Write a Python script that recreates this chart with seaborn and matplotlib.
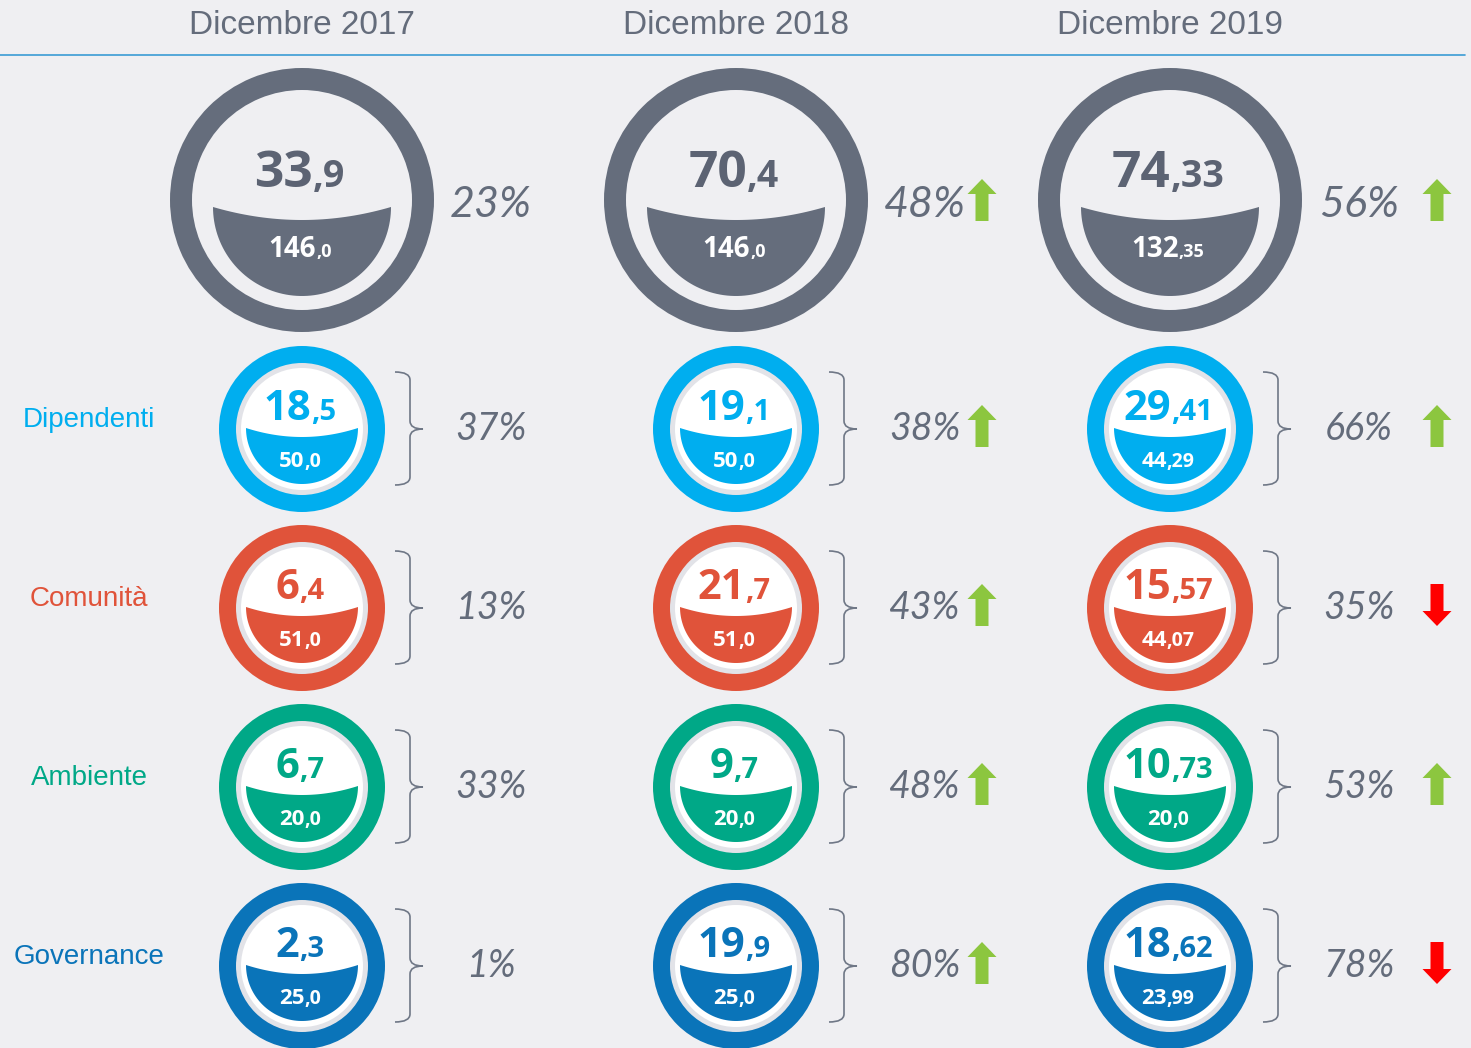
import numpy as np
import matplotlib
matplotlib.use("Agg")
import matplotlib.pyplot as plt
import seaborn as sns
from matplotlib.patches import Circle, Wedge, Polygon, PathPatch
from matplotlib.path import Path

# ---------------- data ----------------
years = ["Dicembre 2017", "Dicembre 2018", "Dicembre 2019"]
categories = ["Dipendenti", "Comunità", "Ambiente", "Governance"]

total_score = ["33,9", "70,4", "74,33"]
total_max = ["146,0", "146,0", "132,35"]
total_pct = [23, 48, 56]
total_trend = [None, "up", "up"]

dip_score = ["18,5", "19,1", "29,41"]
dip_max = ["50,0", "50,0", "44,29"]
dip_pct = [37, 38, 66]
dip_trend = [None, "up", "up"]

com_score = ["6,4", "21,7", "15,57"]
com_max = ["51,0", "51,0", "44,07"]
com_pct = [13, 43, 35]
com_trend = [None, "up", "down"]

amb_score = ["6,7", "9,7", "10,73"]
amb_max = ["20,0", "20,0", "20,0"]
amb_pct = [33, 48, 53]
amb_trend = [None, "up", "up"]

gov_score = ["2,3", "19,9", "18,62"]
gov_max = ["25,0", "25,0", "23,99"]
gov_pct = [1, 80, 78]
gov_trend = [None, "up", "down"]

rows = [
    (dip_score, dip_max, dip_pct, dip_trend),
    (com_score, com_max, com_pct, com_trend),
    (amb_score, amb_max, amb_pct, amb_trend),
    (gov_score, gov_max, gov_pct, gov_trend),
]

# ---------------- style ----------------
sns.set_theme(style="white")
plt.rcParams["font.family"] = ["Liberation Sans", "DejaVu Sans"]

BG = "#EFEFF2"
GRAY = "#656D7C"
TXT = "#646C7B"
cat_colors = sns.color_palette(["#00AEEF", "#E0533A", "#00A887", "#0A74B9"])
UP = "#8CC63F"
DOWN = "#FF0000"
NUMFONT = ["Open Sans", "DejaVu Sans"]
NUMWEIGHT = "bold"

fig = plt.figure(figsize=(14.71, 10.48), dpi=100, facecolor=BG)
ax = fig.add_axes([0, 0, 1, 1])
ax.set_xlim(0, 1471)
ax.set_ylim(1048, 0)
ax.axis("off")
ax.set_facecolor(BG)
renderer = fig.canvas.get_renderer()

col_x = [302, 736, 1170]
row_y = [429, 608, 787, 966]
big_y = 200


def two_part(x, y, label, s1, s2, color):
    a, b = label.split(",")
    b = "," + b
    t1 = ax.text(x, y, a, fontsize=s1, ha="left", va="baseline", color=color,
                 fontweight=NUMWEIGHT, family=NUMFONT, zorder=5)
    t2 = ax.text(x, y, b, fontsize=s2, ha="left", va="baseline", color=color,
                 fontweight=NUMWEIGHT, family=NUMFONT, zorder=5)
    w1 = t1.get_window_extent(renderer).width
    w2 = t2.get_window_extent(renderer).width
    x0 = x - (w1 + w2) / 2
    t1.set_x(x0)
    t2.set_x(x0 + w1)


def bowl(cx, cy, r, sag, color):
    t = np.linspace(0, np.pi, 80)
    lower = np.column_stack([cx + r * np.cos(t), cy + r * np.sin(t)])
    u = np.linspace(0, 1, 40)
    p0 = np.array([cx - r, cy]); p1 = np.array([cx, cy + 2 * sag]); p2 = np.array([cx + r, cy])
    top = ((1 - u) ** 2)[:, None] * p0 + (2 * u * (1 - u))[:, None] * p1 + (u ** 2)[:, None] * p2
    pts = np.vstack([lower, top])
    ax.add_patch(Polygon(pts, closed=True, facecolor=color, edgecolor="none", zorder=3))


def arrow(x, y, kind):
    h, hh, hw, sw = 42, 15, 29, 13
    if kind == "up":
        pts = [(x, y - h / 2), (x + hw / 2, y - h / 2 + hh), (x + sw / 2, y - h / 2 + hh),
               (x + sw / 2, y + h / 2), (x - sw / 2, y + h / 2), (x - sw / 2, y - h / 2 + hh),
               (x - hw / 2, y - h / 2 + hh)]
        c = UP
    else:
        pts = [(x, y + h / 2), (x + hw / 2, y + h / 2 - hh), (x + sw / 2, y + h / 2 - hh),
               (x + sw / 2, y - h / 2), (x - sw / 2, y - h / 2), (x - sw / 2, y + h / 2 - hh),
               (x - hw / 2, y + h / 2 - hh)]
        c = DOWN
    ax.add_patch(Polygon(pts, closed=True, facecolor=c, edgecolor="none", zorder=4))


def brace(cx, cy):
    x1, x2, x3 = cx + 93, cx + 108, cx + 121
    t, b = cy - 57, cy + 56
    verts = [(x1, t), (x2, t), (x2, t + 8), (x2, cy - 8), (x2, cy), (x3, cy),
             (x2, cy), (x2, cy + 8), (x2, b - 8), (x2, b), (x1, b)]
    codes = [Path.MOVETO, Path.CURVE3, Path.CURVE3, Path.LINETO, Path.CURVE3, Path.CURVE3,
             Path.CURVE3, Path.CURVE3, Path.LINETO, Path.CURVE3, Path.CURVE3]
    ax.add_patch(PathPatch(Path(verts, codes), facecolor="none", edgecolor="#6F7786",
                           lw=1.2, zorder=3))


# ---------------- header ----------------
for x, yr in zip(col_x, years):
    ax.text(x, 25, yr, fontsize=24, ha="center", va="center", color=TXT)
ax.plot([0, 1465], [55, 55], color="#3A9BD5", lw=1.2, zorder=2)

pct_dx = [189, 189, 189]
arrow_dx = [None, 246, 267]

# ---------------- totals ----------------
for i, cx in enumerate(col_x):
    ax.add_patch(Wedge((cx, big_y), 132, 0, 360, width=22, facecolor=GRAY, edgecolor="none", zorder=2))
    bowl(cx, big_y + 7, 89, 13, GRAY)
    two_part(cx - 2, 187, total_score[i], 37, 27, "#5C6373")
    two_part(cx - 2, 257, total_max[i], 20, 13, "white")
    ax.text(cx + pct_dx[i], 217, f"{total_pct[i]}%", fontsize=31, style="italic",
            ha="center", va="baseline", color=TXT, family=["Lato", "DejaVu Sans"])
    if total_trend[i]:
        arrow(cx + arrow_dx[i], big_y, total_trend[i])

# ---------------- categories ----------------
for j, (score, mx, pct, trend) in enumerate(rows):
    cy = row_y[j]
    col = cat_colors[j]
    ax.text(89, cy - 9, categories[j], fontsize=20, ha="center", va="center", color=col)
    for i, cx in enumerate(col_x):
        ax.add_patch(Circle((cx, cy), 83, facecolor=col, edgecolor="none", zorder=2))
        ax.add_patch(Circle((cx, cy), 66, facecolor="#E2E3E8", edgecolor="none", zorder=2))
        ax.add_patch(Circle((cx, cy), 61, facecolor="white", edgecolor="none", zorder=2))
        bowl(cx, cy - 1, 56, 9, col)
        two_part(cx - 2, cy - 9, score[i], 30, 21, col)
        two_part(cx - 2, cy + 38, mx[i], 16, 14, "white")
        brace(cx, cy)
        ax.text(cx + pct_dx[i], cy + 11, f"{pct[i]}%", fontsize=27, style="italic",
                ha="center", va="baseline", color=TXT, family=["Lato", "DejaVu Sans"])
        if trend[i]:
            arrow(cx + arrow_dx[i], cy - 3, trend[i])

fig.savefig("out.png", dpi=100, facecolor=BG)
